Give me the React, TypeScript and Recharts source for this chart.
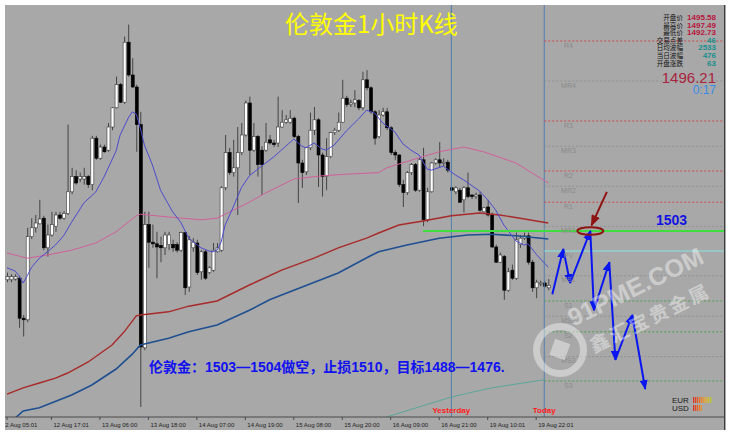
import React from 'react';
import { ComposedChart, Bar, Line, XAxis, YAxis, ReferenceLine } from 'recharts';

const W = 733;
const H = 436;
const Y_MIN = 1479.75;
const Y_MAX = 1531.25;
const SLOTS = 178;

// [open, high, low, close] per 1-hour bar
const CANDLES: [number, number, number, number][] = [
  [1496.9, 1497.8, 1496.6, 1497.3], [1496.9, 1497.6, 1496.6, 1497.3], [1497.0, 1497.6, 1496.8, 1497.3],
  [1497.1, 1497.4, 1490.9, 1492.1], [1492.1, 1492.5, 1489.8, 1491.9], [1491.9, 1503.4, 1491.6, 1502.3],
  [1502.3, 1504.6, 1502.0, 1503.4], [1503.4, 1505.0, 1502.8, 1504.0], [1503.9, 1506.9, 1503.8, 1504.5],
  [1504.6, 1504.9, 1500.6, 1500.9], [1500.9, 1503.8, 1499.8, 1502.5], [1502.5, 1505.4, 1502.3, 1503.8],
  [1503.6, 1505.4, 1502.9, 1505.0], [1505.0, 1505.4, 1504.4, 1504.6], [1504.6, 1505.5, 1504.4, 1505.2],
  [1505.2, 1516.3, 1505.0, 1507.9], [1507.9, 1510.9, 1507.6, 1509.8], [1509.8, 1510.6, 1508.8, 1509.0],
  [1509.5, 1510.3, 1509.1, 1509.8], [1509.5, 1510.9, 1508.8, 1509.8], [1509.8, 1510.0, 1508.4, 1508.8],
  [1508.8, 1514.9, 1508.1, 1514.6], [1514.6, 1514.9, 1511.9, 1512.1], [1512.1, 1513.8, 1511.9, 1513.5],
  [1513.5, 1513.8, 1512.8, 1512.9], [1513.1, 1516.5, 1512.9, 1516.0], [1516.0, 1518.5, 1515.6, 1518.4],
  [1518.4, 1522.3, 1518.3, 1521.3], [1521.3, 1521.5, 1519.0, 1519.1], [1519.1, 1527.3, 1518.9, 1526.6],
  [1526.6, 1528.8, 1522.3, 1522.5], [1522.5, 1524.6, 1520.9, 1521.0], [1521.0, 1521.3, 1512.9, 1516.3],
  [1516.3, 1517.9, 1481.0, 1488.5], [1488.4, 1505.4, 1488.1, 1503.8], [1503.8, 1505.4, 1498.4, 1501.6],
  [1501.6, 1503.8, 1500.9, 1501.4], [1501.4, 1502.9, 1497.1, 1501.0], [1501.2, 1502.3, 1499.1, 1500.9],
  [1500.9, 1502.9, 1500.0, 1502.5], [1501.3, 1502.9, 1500.6, 1502.5], [1501.3, 1501.9, 1500.4, 1500.9],
  [1501.3, 1501.6, 1500.3, 1500.6], [1500.6, 1502.9, 1500.4, 1502.8], [1502.8, 1502.9, 1495.0, 1495.9],
  [1496.0, 1502.4, 1495.4, 1501.9], [1500.9, 1502.1, 1500.4, 1501.6], [1501.5, 1501.9, 1497.5, 1497.8],
  [1497.9, 1500.6, 1496.9, 1500.4], [1500.4, 1500.6, 1496.9, 1497.1], [1497.8, 1498.6, 1497.6, 1498.4],
  [1498.1, 1501.5, 1497.9, 1500.6], [1500.4, 1501.5, 1500.3, 1500.9], [1500.6, 1508.6, 1500.4, 1508.4],
  [1508.4, 1515.0, 1508.1, 1512.8], [1512.8, 1513.4, 1510.0, 1510.3], [1510.3, 1514.4, 1509.8, 1510.9],
  [1510.9, 1516.0, 1505.0, 1512.8], [1512.8, 1516.5, 1512.5, 1515.0], [1515.0, 1519.3, 1514.8, 1519.0],
  [1519.0, 1519.8, 1510.0, 1513.1], [1513.1, 1516.5, 1512.9, 1514.8], [1514.8, 1515.0, 1509.8, 1511.3],
  [1513.1, 1513.6, 1507.5, 1511.3], [1513.1, 1516.5, 1512.9, 1514.1], [1514.4, 1515.0, 1513.8, 1514.0],
  [1514.0, 1514.4, 1513.5, 1513.8], [1514.0, 1519.8, 1513.5, 1516.0], [1516.0, 1518.1, 1515.9, 1516.6],
  [1516.6, 1517.5, 1516.4, 1516.9], [1516.6, 1518.1, 1516.4, 1517.1], [1517.1, 1517.3, 1514.6, 1514.8],
  [1514.8, 1515.0, 1506.5, 1511.5], [1511.5, 1511.9, 1508.4, 1510.3], [1510.4, 1513.5, 1510.0, 1513.4],
  [1513.4, 1517.8, 1513.1, 1515.6], [1515.6, 1518.5, 1515.0, 1516.9], [1516.9, 1517.1, 1508.5, 1512.5],
  [1512.5, 1512.8, 1507.3, 1509.8], [1509.8, 1514.6, 1508.1, 1512.3], [1512.3, 1515.4, 1512.1, 1515.3],
  [1515.3, 1515.9, 1515.0, 1515.6], [1515.6, 1517.8, 1515.4, 1516.6], [1516.6, 1521.9, 1516.5, 1519.6],
  [1519.6, 1519.9, 1518.5, 1518.8], [1518.8, 1519.4, 1518.5, 1519.0], [1519.0, 1520.6, 1518.5, 1519.4],
  [1519.3, 1519.5, 1518.1, 1518.4], [1518.4, 1522.9, 1518.1, 1521.9], [1521.9, 1523.1, 1520.6, 1520.9],
  [1520.9, 1521.1, 1517.6, 1517.9], [1517.9, 1518.1, 1513.8, 1514.6], [1514.8, 1518.1, 1514.6, 1517.5],
  [1517.5, 1518.4, 1517.3, 1517.9], [1517.9, 1518.4, 1515.6, 1515.9], [1515.9, 1516.1, 1512.5, 1512.8],
  [1512.8, 1513.1, 1511.9, 1512.5], [1512.5, 1512.6, 1508.5, 1508.8], [1508.8, 1509.4, 1506.0, 1507.8],
  [1507.8, 1510.5, 1507.5, 1510.3], [1510.3, 1511.5, 1510.0, 1511.3], [1511.3, 1511.5, 1507.9, 1508.1],
  [1508.1, 1512.1, 1507.9, 1511.9], [1511.9, 1513.4, 1503.6, 1504.4], [1504.4, 1508.4, 1504.1, 1507.9],
  [1507.9, 1511.6, 1507.8, 1511.5], [1511.5, 1512.1, 1511.3, 1511.9], [1511.9, 1514.1, 1511.0, 1511.5],
  [1511.5, 1512.1, 1511.1, 1511.6], [1511.6, 1511.9, 1510.3, 1510.6], [1508.4, 1508.5, 1508.0, 1508.1],
  [1507.9, 1508.6, 1507.6, 1508.4], [1508.1, 1508.4, 1506.5, 1506.6], [1506.9, 1508.6, 1505.3, 1508.4],
  [1508.4, 1510.3, 1507.1, 1507.3], [1507.5, 1507.6, 1507.0, 1507.3], [1507.3, 1507.8, 1507.0, 1507.5],
  [1507.5, 1507.9, 1505.4, 1505.6], [1505.4, 1506.0, 1505.3, 1505.9], [1506.0, 1506.9, 1504.8, 1505.0],
  [1505.0, 1505.3, 1500.9, 1501.0], [1501.0, 1501.3, 1499.0, 1499.1], [1499.1, 1500.3, 1499.0, 1500.0],
  [1499.8, 1500.0, 1494.4, 1495.6], [1495.6, 1498.4, 1495.4, 1497.9], [1498.1, 1498.8, 1496.9, 1497.1],
  [1497.1, 1502.8, 1496.9, 1501.9], [1501.3, 1502.5, 1500.9, 1502.1], [1502.1, 1502.8, 1501.9, 1502.4],
  [1502.4, 1502.8, 1498.8, 1499.1], [1499.1, 1499.4, 1495.4, 1495.9], [1495.9, 1496.9, 1494.6, 1496.6],
  [1496.4, 1496.8, 1496.1, 1496.5], [1496.5, 1496.8, 1495.9, 1496.1], [1495.9, 1497.0, 1495.6, 1496.2],
];

// moving averages: [bar index, price]
const MA_FAST: [number, number][] = [
  [0, 1498.4], [2, 1498.0], [3, 1497.4], [4, 1496.5], [5, 1497.4], [6, 1498.4], [8, 1499.6], [10, 1500.4],
  [12, 1501.25], [14, 1502.4], [16, 1504.1], [19, 1506.5], [22, 1507.9], [24, 1509.75], [27, 1513.0],
  [28, 1515.0], [30, 1517.1], [31, 1517.9], [32, 1517.6], [33, 1515.9], [34, 1513.75], [36, 1511.25],
  [38, 1508.1], [41, 1505.4], [43, 1504.1], [45, 1502.1], [48, 1500.9], [50, 1500.5], [51, 1500.4],
  [52, 1500.6], [53, 1501.6], [54, 1503.75], [56, 1506.0], [58, 1508.4], [60, 1509.9], [63, 1511.1],
  [66, 1512.25], [69, 1513.6], [71, 1514.5], [73, 1513.6], [74, 1513.4], [76, 1514.0], [78, 1513.25],
  [79, 1513.1], [81, 1513.75], [84, 1515.5], [87, 1517.0], [89, 1518.1], [91, 1517.75], [93, 1516.5],
  [96, 1515.4], [98, 1513.9], [100, 1513.1], [102, 1512.5], [104, 1510.75], [105, 1510.6], [108, 1511.1],
  [111, 1510.0], [113, 1509.4], [117, 1508.0], [119, 1506.9], [121, 1505.6], [123, 1503.75], [126, 1501.75],
  [128, 1501.25], [129, 1501.4], [131, 1500.1], [133, 1499.0], [134, 1498.5],
];
const MA_MID: [number, number][] = [
  [0, 1500.25], [5, 1499.6], [10, 1500.0], [16, 1500.6], [22, 1501.5], [27, 1502.9], [32, 1504.9],
  [33, 1505.1], [40, 1504.75], [48, 1504.4], [52, 1504.6], [56, 1505.6], [60, 1506.6], [64, 1507.75],
  [71, 1509.5], [78, 1509.9], [84, 1510.1], [92, 1510.3], [94, 1510.9], [101, 1512.0], [107, 1512.9],
  [113, 1513.5], [118, 1512.9], [126, 1511.5], [134, 1509.0],
];
const MA_SLOW: [number, number][] = [
  [0, 1482.6], [4, 1483.4], [8, 1484.0], [12, 1484.6], [15, 1485.25], [20, 1486.6], [26, 1488.75],
  [29, 1490.4], [32, 1492.4], [33, 1492.5], [40, 1492.9], [45, 1493.6], [52, 1494.25], [60, 1496.25],
  [68, 1498.1], [76, 1499.6], [82, 1500.9], [89, 1502.1], [92, 1502.75], [97, 1503.75], [103, 1504.25],
  [110, 1504.9], [117, 1505.25], [122, 1505.0], [127, 1504.6], [134, 1504.0],
];
const MA_LONG: [number, number][] = [
  [2, 1479.6], [4, 1480.5], [8, 1480.9], [16, 1482.5], [21, 1483.75], [27, 1485.75], [31, 1487.6],
  [33, 1488.75], [40, 1489.6], [45, 1490.4], [52, 1491.25], [60, 1493.1], [65, 1494.4], [71, 1495.6],
  [82, 1497.75], [90, 1499.9], [92, 1500.4], [99, 1501.25], [107, 1502.1], [114, 1502.5], [120, 1502.6],
  [126, 1502.4], [134, 1502.0],
];
const MA_TEAL: [number, number][] = [[93, 1479.6], [110, 1482.25], [120, 1483.4], [133, 1484.4]];

const TICK_INDEX = [0, 11, 23, 35, 47, 59, 71, 83, 95, 107, 119, 131];
const TICK_LABELS = [
  '12 Aug 05:01', '12 Aug 17:01', '13 Aug 06:00', '13 Aug 18:00', '14 Aug 07:00', '14 Aug 19:00',
  '15 Aug 08:00', '15 Aug 20:00', '16 Aug 09:00', '16 Aug 21:00', '19 Aug 10:01', '19 Aug 22:01',
];

const PIVOT_NAMES = ['R4', 'MR4', 'R3', 'MR3', 'R2', 'MR2', 'R1', 'MR1', 'PV', 'MS1', 'S1', 'MS2', 'S2', 'MS3', 'S3'];
const PIVOT_LEVELS = [1526.75, 1521.75, 1516.75, 1513.6, 1510.5, 1508.6, 1506.6, 1503.55, 1500.5, 1497.4, 1494.25, 1492.35, 1490.4, 1487.3, 1484.25];

const PROJECTION: [number, number][] = [
  [135, 1495.1], [137.7, 1500.75], [139.4, 1496.5], [144.4, 1503.0], [145.3, 1493.1],
  [149.1, 1499.1], [150.6, 1486.9], [154.8, 1492.5], [158, 1483.25],
];
const POINTER: [number, number][] = [[148.5, 1507.9], [144.7, 1503.7]];
const TARGET: [number, number] = [144.4, 1503.0];
const ENTRY_LEVEL = 1503;
const ENTRY_START = 103;
const YESTERDAY_INDEX = 110;
const TODAY_INDEX = 133;
const PIVOT_START = 133;
const PIVOT_LABEL_SLOT = 139;
const X_END = SLOTS - 0.5;

const INFO_LABELS = ['开盘价', '最高价', '最低价', '交易点差', '日均波幅', '当日波幅', '开盘涨跌'];
const INFO_VALUES = ['1495.58', '1497.49', '1492.73', '46', '2533', '476', '63'];
const BID = '1496.21';
const TIMER = '0:17';
const TITLE = '伦敦金1小时K线';
const PLAN = '伦敦金：1503—1504做空，止损1510，目标1488—1476.';

const chartData = Array.from({ length: SLOTS }, (_, i) => {
  const c = CANDLES[i];
  return c ? { i, o: c[0], h: c[1], l: c[2], c: c[3] } : { i };
});
const toPts = (arr: [number, number][]) => arr.map(([i, v]) => ({ i, v }));

const pivotColor = (n: string) =>
  n.startsWith('R') ? '#D14848' : n === 'PV' ? '#86E3E3' : n.startsWith('S') ? '#4E9E4E' : '#909090';

const renderCandle = (props: any) => {
  const { x, y, width, height, payload } = props;
  if (!payload || payload.o == null || x == null) return <g />;
  const top = Math.min(y, y + height);
  const h = Math.abs(height);
  const range = payload.h - payload.l;
  const k = range > 0 ? h / range : 0;
  const yO = top + (payload.h - payload.o) * k;
  const yC = top + (payload.h - payload.c) * k;
  const bull = payload.c >= payload.o;
  const cx = x + width / 2;
  const bTop = Math.min(yO, yC);
  const bH = Math.max(Math.abs(yC - yO), 1);
  return (
    <g>
      <line x1={cx} x2={cx} y1={top} y2={top + h} stroke="#444" strokeWidth={1} />
      <rect x={x} y={bTop} width={width} height={bH} fill={bull ? '#ffffff' : '#000000'} stroke={bull ? '#3a3a3a' : '#000'} strokeWidth={0.6} />
    </g>
  );
};

const AxisTick = (props: any) => {
  const { x, y, payload } = props;
  const idx = TICK_INDEX.indexOf(payload.value);
  const dx = idx === 0 ? -5 : 2;
  return (
    <text x={x + dx} y={y + 5} fontSize={6} fill="#1e1e1e" fontFamily="'Liberation Sans', Arial, sans-serif" clipPath="url(#axisClip)">
      {TICK_LABELS[idx]}
    </text>
  );
};

const pivotLabelDot = (props: any) => {
  const { cx, cy, payload, index } = props;
  return (
    <text key={`pl${index}`} x={cx} y={cy + 6.5} textAnchor="middle" fontSize={7} fill="#8a8a8a" fontFamily="'Liberation Sans', Arial, sans-serif">
      {payload.name}
    </text>
  );
};

const ellipseDot = (props: any) => {
  const { cx, cy, index } = props;
  return <ellipse key={`el${index}`} cx={cx} cy={cy} rx={13} ry={3.8} fill="none" stroke="#8E1414" strokeWidth={2} />;
};

const EUR_BARS = ['#E0301E', '#E5401E', '#EA521E', '#EE6620', '#F07A20', '#F09022', '#ECA624', '#E0BA28', '#D0C42C', '#C0C832'];
const USD_BARS = ['#E0301E', '#E6461E', '#EC5C20', '#F07222', '#F08A22'];

export default function App() {
  const sans = "'Liberation Sans', Arial, 'Noto Sans CJK SC', sans-serif";
  const cjk = "'Noto Sans CJK SC', sans-serif";
  return (
    <div style={{ position: 'absolute', left: 0, top: 0, width: W, height: H, background: '#ffffff', overflow: 'hidden' }}>
      <div style={{ position: 'absolute', left: 5, top: 5, width: 721, height: 425, background: '#A8A8A8' }} />
      <div style={{ position: 'absolute', left: 0, top: 0 }}>
        <ComposedChart width={W} height={H} data={chartData} margin={{ top: 5, right: 9, bottom: 0, left: 5 }}>
          <XAxis
            xAxisId="c"
            dataKey="i"
            type="category"
            ticks={TICK_INDEX}
            interval={0}
            tick={AxisTick}
            tickSize={3}
            height={19}
            axisLine={{ stroke: '#4a4a4a' }}
            tickLine={{ stroke: '#4a4a4a' }}
          />
          <XAxis xAxisId="n" dataKey="i" type="number" domain={[-0.5, X_END]} allowDataOverflow hide />
          <YAxis type="number" domain={[Y_MIN, Y_MAX]} allowDataOverflow hide />

          <ReferenceLine xAxisId="n" x={YESTERDAY_INDEX} stroke="#4F7DAD" strokeWidth={1}
            label={{ value: 'Yesterday', position: 'insideBottom', offset: 4, fill: '#FF1A1A', fontSize: 8, fontWeight: 700, fontFamily: sans }} />
          <ReferenceLine xAxisId="n" x={TODAY_INDEX} stroke="#4F7DAD" strokeWidth={1}
            label={{ value: 'Today', position: 'insideBottom', offset: 4, fill: '#FF1A1A', fontSize: 8, fontWeight: 700, fontFamily: sans }} />

          {PIVOT_NAMES.map((n, k) => (
            <Line key={`pv${n}`} xAxisId="n" type="linear" data={[{ i: PIVOT_START, v: PIVOT_LEVELS[k] }, { i: X_END, v: PIVOT_LEVELS[k] }]}
              dataKey="v" stroke={pivotColor(n)} strokeWidth={1} strokeDasharray={n === 'PV' ? undefined : '2 2'}
              dot={false} activeDot={false} isAnimationActive={false} />
          ))}
          <Line xAxisId="n" type="linear" data={PIVOT_NAMES.map((n, k) => ({ i: PIVOT_LABEL_SLOT, v: PIVOT_LEVELS[k], name: n }))}
            dataKey="v" stroke="none" dot={pivotLabelDot} activeDot={false} isAnimationActive={false} />

          <Line xAxisId="n" type="linear" data={toPts(MA_TEAL)} dataKey="v" stroke="#5AA69C" strokeWidth={1} dot={false} activeDot={false} isAnimationActive={false} />
          <Line xAxisId="n" type="linear" data={toPts(MA_LONG)} dataKey="v" stroke="#1F4F90" strokeWidth={1.6} dot={false} activeDot={false} isAnimationActive={false} />
          <Line xAxisId="n" type="linear" data={toPts(MA_SLOW)} dataKey="v" stroke="#A82A2A" strokeWidth={1.4} dot={false} activeDot={false} isAnimationActive={false} />
          <Line xAxisId="n" type="linear" data={toPts(MA_MID)} dataKey="v" stroke="#D0609A" strokeWidth={1} dot={false} activeDot={false} isAnimationActive={false} />

          <Bar xAxisId="c" dataKey={(d: any) => (d.o == null ? null : [d.l, d.h])} barSize={3} shape={renderCandle} isAnimationActive={false} />

          <Line xAxisId="n" type="linear" data={toPts(MA_FAST)} dataKey="v" stroke="#4B4BD0" strokeWidth={1} dot={false} activeDot={false} isAnimationActive={false} />

          <Line xAxisId="n" type="linear" data={[{ i: ENTRY_START, v: ENTRY_LEVEL }, { i: X_END, v: ENTRY_LEVEL }]} dataKey="v"
            stroke="#40DD40" strokeWidth={2} dot={false} activeDot={false} isAnimationActive={false} />

          {PROJECTION.slice(1).map((p, k) => (
            <Line key={`proj${k}`} xAxisId="n" type="linear"
              data={[{ i: PROJECTION[k][0], v: PROJECTION[k][1] }, { i: p[0], v: p[1] }]}
              dataKey="v" stroke="#0A16F0" strokeWidth={2} dot={false} activeDot={false} isAnimationActive={false}
              markerEnd="url(#arrBlue)" />
          ))}
          <Line xAxisId="n" type="linear" data={toPts(POINTER)} dataKey="v" stroke="#8E1414" strokeWidth={2}
            dot={false} activeDot={false} isAnimationActive={false} markerEnd="url(#arrRed)" />
          <Line xAxisId="n" type="linear" data={[{ i: TARGET[0], v: TARGET[1] }]} dataKey="v" stroke="none"
            dot={ellipseDot} activeDot={false} isAnimationActive={false} />
        </ComposedChart>
      </div>

      <svg width={W} height={H} style={{ position: 'absolute', left: 0, top: 0, pointerEvents: 'none' }}>
        <defs>
          <marker id="arrBlue" viewBox="0 0 10 8" refX="9" refY="4" markerWidth="5" markerHeight="4" orient="auto" markerUnits="strokeWidth">
            <path d="M0,0 L10,4 L0,8 z" fill="#0A16F0" />
          </marker>
          <marker id="arrRed" viewBox="0 0 10 8" refX="9" refY="4" markerWidth="6" markerHeight="4.5" orient="auto" markerUnits="strokeWidth">
            <path d="M0,0 L10,4 L0,8 z" fill="#8E1414" />
          </marker>
          <clipPath id="axisClip">
            <rect x={5} y={0} width={720} height={436} />
          </clipPath>
        </defs>

        <line x1={724.5} y1={5} x2={724.5} y2={430} stroke="#3c3c3c" strokeWidth={1} />

        <text x={285} y={33} fontSize={24} fill="#FFFF00" fontFamily={cjk}>{TITLE}</text>

        {INFO_LABELS.map((t, k) => (
          <text key={`il${k}`} x={683} y={20 + 7.6 * k} fontSize={6.6} fill="#111" textAnchor="end" fontFamily={cjk}>{t}</text>
        ))}
        {INFO_VALUES.map((t, k) => (
          <text key={`iv${k}`} x={716} y={20 + 7.6 * k} fontSize={8} fontWeight={700} textAnchor="end"
            fill={k < 3 ? '#B8143C' : '#17908E'} fontFamily={sans}>{t}</text>
        ))}
        <text x={716} y={82.5} fontSize={15} fill="#A82440" textAnchor="end" fontFamily={sans}>{BID}</text>
        <text x={716} y={94} fontSize={12} fill="#3A8CEB" textAnchor="end" fontFamily={sans}>{TIMER}</text>

        <text x={656} y={225} fontSize={14} fontWeight={700} fill="#1414E0" fontFamily={sans}>{ENTRY_LEVEL}</text>

        <text x={149} y={372} fontSize={14} fontWeight={700} fill="#1212EE" fontFamily={sans}>{PLAN}</text>

        <text x={672} y={403} fontSize={8} fill="#1a1a1a" fontFamily={sans}>EUR</text>
        <text x={672} y={411} fontSize={8} fill="#1a1a1a" fontFamily={sans}>USD</text>
        {EUR_BARS.map((c, k) => (
          <rect key={`eb${k}`} x={693 + k * 1.9} y={397} width={1.2} height={6} fill={c} />
        ))}
        {USD_BARS.map((c, k) => (
          <rect key={`ub${k}`} x={693 + k * 1.9} y={405} width={1.2} height={6} fill={c} />
        ))}

        <g opacity={0.42}>
          <circle cx={560} cy={350} r={23.5} fill="none" stroke="#ffffff" strokeWidth={7} />
          <rect x={552} y={341} width={16} height={17} fill="#ffffff" transform="rotate(20 560 349)" />
          <text transform="translate(573,327) rotate(-26)" fontSize={25} fontWeight={700} fill="#ffffff" fontFamily={sans}>91PME.COM</text>
          <text transform="translate(594,353) rotate(-26)" fontSize={19} fontWeight={700} fill="#ffffff" letterSpacing={3} fontFamily={cjk}>鑫汇宝贵金属</text>
        </g>
      </svg>
    </div>
  );
}
